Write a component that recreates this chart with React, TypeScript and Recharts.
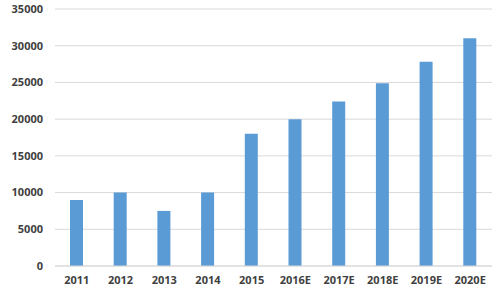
import { BarChart, Bar, XAxis, YAxis, CartesianGrid } from 'recharts';

const years = ['2011', '2012', '2013', '2014', '2015', '2016E', '2017E', '2018E', '2019E', '2020E'];
const values = [9000, 10000, 7500, 10000, 18000, 20000, 22400, 24900, 27800, 31000];
const yTicks = [0, 5000, 10000, 15000, 20000, 25000, 30000, 35000];

const data = years.map((year, i) => ({ year, value: values[i] }));

const tickStyle = { fontSize: 11, fill: '#3f3f3f', fontFamily: '"Open Sans", sans-serif', fontWeight: 700 };

export default function App() {
  return (
    <div style={{ position: 'absolute', left: 0, top: 0, background: '#fff' }}>
      <BarChart
        width={500}
        height={291}
        data={data}
        margin={{ top: 9, right: 8, left: 0, bottom: 0 }}
      >
        <CartesianGrid stroke="#d9d9d9" vertical={false} />
        <XAxis
          dataKey="year"
          height={25}
          tick={tickStyle}
          tickLine={false}
          tickSize={0}
          tickMargin={10}
          axisLine={{ stroke: '#d9d9d9' }}
        />
        <YAxis
          width={55}
          domain={[0, 35000]}
          ticks={yTicks}
          tick={tickStyle}
          tickLine={false}
          tickSize={0}
          tickMargin={12}
          axisLine={false}
        />
        <Bar dataKey="value" fill="#5b9bd5" barSize={13} isAnimationActive={false} />
      </BarChart>
    </div>
  );
}
